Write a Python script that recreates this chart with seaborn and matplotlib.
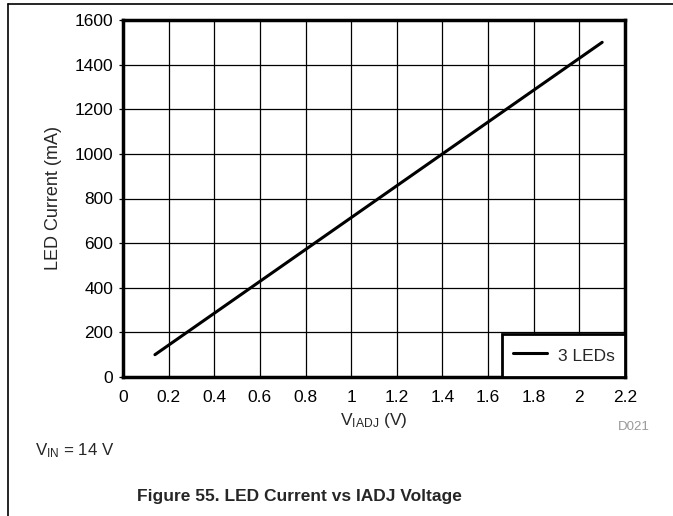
import matplotlib
matplotlib.use("Agg")
import matplotlib.pyplot as plt
import matplotlib.lines as mlines
import seaborn as sns
import pandas as pd

# data
v_iadj = [0.14, 2.1]
led_current = [100, 1500]
series_name = "3 LEDs"
x_ticks = [0, 0.2, 0.4, 0.6, 0.8, 1, 1.2, 1.4, 1.6, 1.8, 2, 2.2]
y_ticks = [0, 200, 400, 600, 800, 1000, 1200, 1400, 1600]

df = pd.DataFrame({"v": v_iadj, "i": led_current})

sns.set_theme(style="white")
plt.rcParams["font.family"] = ["Liberation Sans", "DejaVu Sans"]
plt.rcParams["mathtext.fontset"] = "custom"
plt.rcParams["mathtext.rm"] = "Liberation Sans"
plt.rcParams["mathtext.it"] = "Liberation Sans"

fig = plt.figure(figsize=(6.73, 5.16), dpi=100)
ax = fig.add_axes([123 / 673, 1 - 377 / 516, (625 - 123) / 673, (377 - 20) / 516])

sns.lineplot(data=df, x="v", y="i", color="black", linewidth=2.2, label=series_name, ax=ax)

ax.set_xlim(0, 2.2)
ax.set_ylim(0, 1600)
ax.set_xticks(x_ticks)
ax.set_xticklabels([f"{t:g}" for t in x_ticks])
ax.set_yticks(y_ticks)
ax.grid(True, color="black", linewidth=0.9)
ax.tick_params(axis="both", labelsize=12.5, colors="black", width=0.9, direction="out")
ax.tick_params(axis="y", length=3, pad=4, left=True)
ax.tick_params(axis="x", length=0, pad=9, bottom=True)
for s in ax.spines.values():
    s.set_color("black")
    s.set_linewidth(2.5)

ax.set_xlabel(r"V$_{\mathrm{IADJ}}$ (V)", fontsize=12.5, labelpad=5)
ax.set_ylabel("LED Current (mA)", fontsize=13, labelpad=9)

leg = ax.legend(loc="lower right", fontsize=12.5, frameon=True, fancybox=False,
                borderaxespad=0, handlelength=2.0, handletextpad=0.6, borderpad=0.6,
                handleheight=1.6)
leg.get_frame().set_edgecolor("black")
leg.get_frame().set_linewidth(2)
leg.get_frame().set_alpha(1)

fig.text(618 / 673, 1 - 427 / 516, "D021", fontsize=9.5, color="#999999", va="center", ha="left")
fig.text(35 / 673, 1 - 451 / 516, r"V$_{\mathrm{IN}}$ = 14 V", fontsize=12.2, va="center", ha="left")
fig.text(299 / 673, 1 - 497 / 516, "Figure 55. LED Current vs IADJ Voltage", fontsize=12.5,
         fontweight="bold", va="center", ha="center")

# page frame lines
fig.add_artist(mlines.Line2D([8 / 673, 1], [1 - 4 / 516, 1 - 4 / 516], color="black", linewidth=1.2))
fig.add_artist(mlines.Line2D([8 / 673, 8 / 673], [0, 1 - 4 / 516], color="black", linewidth=1.2))

fig.savefig("out.png", dpi=100)
